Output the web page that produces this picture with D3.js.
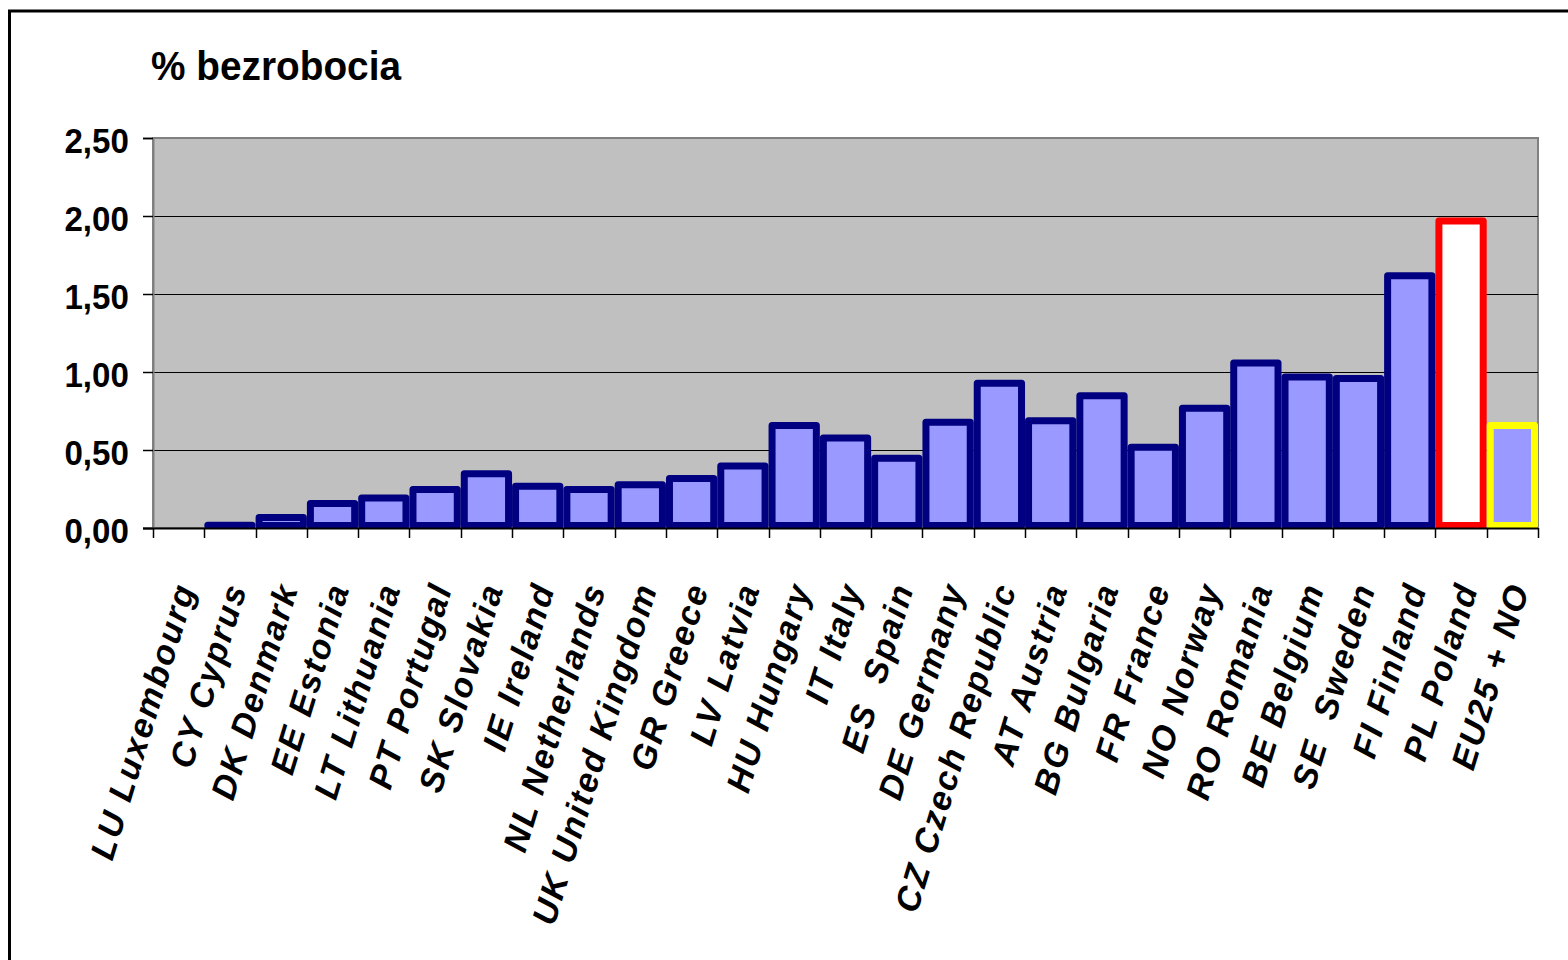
<!DOCTYPE html>
<html>
<head>
<meta charset="utf-8">
<script src="https://cdn.jsdelivr.net/npm/d3@7"></script>
<style>
html, body { margin: 0; padding: 0; background: #fff; }
svg { display: block; }
text { font-family: "Liberation Sans", Arial, sans-serif; fill: #000; }
</style>
</head>
<body>
<svg id="chart" width="1568" height="960"></svg>
<script>
// ---- data ----
const categories = ["LU Luxembourg","CY Cyprus","DK Denmark","EE Estonia","LT Lithuania","PT Portugal","SK Slovakia","IE Ireland","NL Netherlands","UK United Kingdom","GR Greece","LV Latvia","HU Hungary","IT Italy","ES  Spain","DE Germany","CZ Czech Republic","AT Austria","BG Bulgaria","FR France","NO Norway","RO Romania","BE Belgium","SE  Sweden","FI Finland","PL Poland","EU25 + NO"];
const values = [0.00,0.04,0.09,0.18,0.215,0.27,0.37,0.29,0.27,0.30,0.34,0.42,0.68,0.60,0.47,0.70,0.95,0.71,0.87,0.54,0.79,1.08,0.99,0.98,1.64,1.99,0.68];
const yTicks = [0, 0.5, 1.0, 1.5, 2.0, 2.5];
const title = "% bezrobocia";
const highlightPL = "PL Poland";
const highlightEU = "EU25 + NO";

// ---- layout ----
const svg = d3.select("#chart");
const L = 153, R = 1538, T = 138, B = 528;

const x = d3.scaleBand().domain(categories).range([L, R]).padding(0);
const y = d3.scaleLinear().domain([0, 2.5]).range([B, T]);

// outer frame
svg.append("rect").attr("x", 9.5).attr("y", 11).attr("width", 1600).attr("height", 1000)
  .attr("fill", "none").attr("stroke", "#000").attr("stroke-width", 3);

// title
svg.append("text").attr("x", 151).attr("y", 80)
  .attr("font-size", 40).attr("font-weight", "bold")
  .attr("transform", "translate(151,0) scale(0.97,1) translate(-151,0)")
  .text(title);

// plot area
svg.append("rect").attr("x", L).attr("y", T).attr("width", R - L).attr("height", B - T)
  .attr("fill", "#C0C0C0").attr("stroke", "#808080").attr("stroke-width", 2);

// gridlines
svg.append("g").selectAll("line").data(yTicks.filter(d => d > 0 && d < 2.5)).join("line")
  .attr("x1", L).attr("x2", R).attr("y1", d => Math.round(y(d)) + 0.5).attr("y2", d => Math.round(y(d)) + 0.5)
  .attr("stroke", "#000").attr("stroke-width", 1);

// clip for bars
svg.append("clipPath").attr("id", "plotclip").append("rect")
  .attr("x", L).attr("y", T - 10).attr("width", R - L + 2).attr("height", B - T + 10);

const sw = 7;
svg.append("g").attr("clip-path", "url(#plotclip)").selectAll("rect")
  .data(categories.map((c, i) => ({c, v: values[i]})).filter(d => d.v > 0))
  .join("rect")
  .attr("x", d => x(d.c) + sw / 2)
  .attr("y", d => y(d.v) + sw / 2)
  .attr("width", x.bandwidth() - sw)
  .attr("height", d => Math.max(0, (B - sw / 2 + 1) - (y(d.v) + sw / 2)))
  .attr("fill", d => d.c === highlightPL ? "#FFFFFF" : "#9999FF")
  .attr("stroke", d => d.c === highlightPL ? "#FF0000" : (d.c === highlightEU ? "#FFFF00" : "#000080"))
  .attr("stroke-width", sw)
  .attr("stroke-linejoin", "round");

// y axis
const yAxis = d3.axisLeft(y).tickValues(yTicks).tickSize(10).tickPadding(14)
  .tickFormat(d => d3.format(".2f")(d).replace(".", ","));
const gy = svg.append("g").attr("transform", `translate(${L},0)`).call(yAxis);
gy.select(".domain").attr("stroke", "#808080").attr("stroke-width", 2);
gy.selectAll(".tick line").attr("stroke", "#000").attr("stroke-width", 1.5);
gy.selectAll(".tick text").attr("font-size", 36).attr("font-weight", "bold")
  .attr("font-family", "Liberation Sans, Arial, sans-serif").attr("dy", "0.4em").attr("fill", "#000")
  .attr("transform", "translate(-26,0) scale(0.92,1) translate(26,0)");

// x axis line
svg.append("line").attr("x1", 143).attr("x2", R).attr("y1", B + 0.5).attr("y2", B + 0.5)
  .attr("stroke", "#000").attr("stroke-width", 2);

// x ticks at band edges
const edges = categories.map(c => x(c)).concat([R]);
svg.append("g").selectAll("line").data(edges).join("line")
  .attr("x1", d => Math.round(d) + 0.5).attr("x2", d => Math.round(d) + 0.5)
  .attr("y1", B).attr("y2", B + 10)
  .attr("stroke", "#000").attr("stroke-width", 1.5);

// x labels
const xAxis = d3.axisBottom(x).tickSize(0).tickPadding(0);
const gx = svg.append("g").attr("transform", `translate(0,${B})`).call(xAxis);
gx.select(".domain").remove();
gx.selectAll(".tick text")
  .attr("font-size", 34).attr("font-weight", "bold").attr("font-style", "italic")
  .attr("font-family", "Liberation Sans, Arial, sans-serif").attr("fill", "#000")
  .attr("text-anchor", "end")
  .attr("dy", "0.35em")
  .attr("y", 0)
  .attr("style", "white-space: pre; letter-spacing: 2px")
  .attr("transform", "translate(6,56) rotate(-73)");
</script>
</body>
</html>
